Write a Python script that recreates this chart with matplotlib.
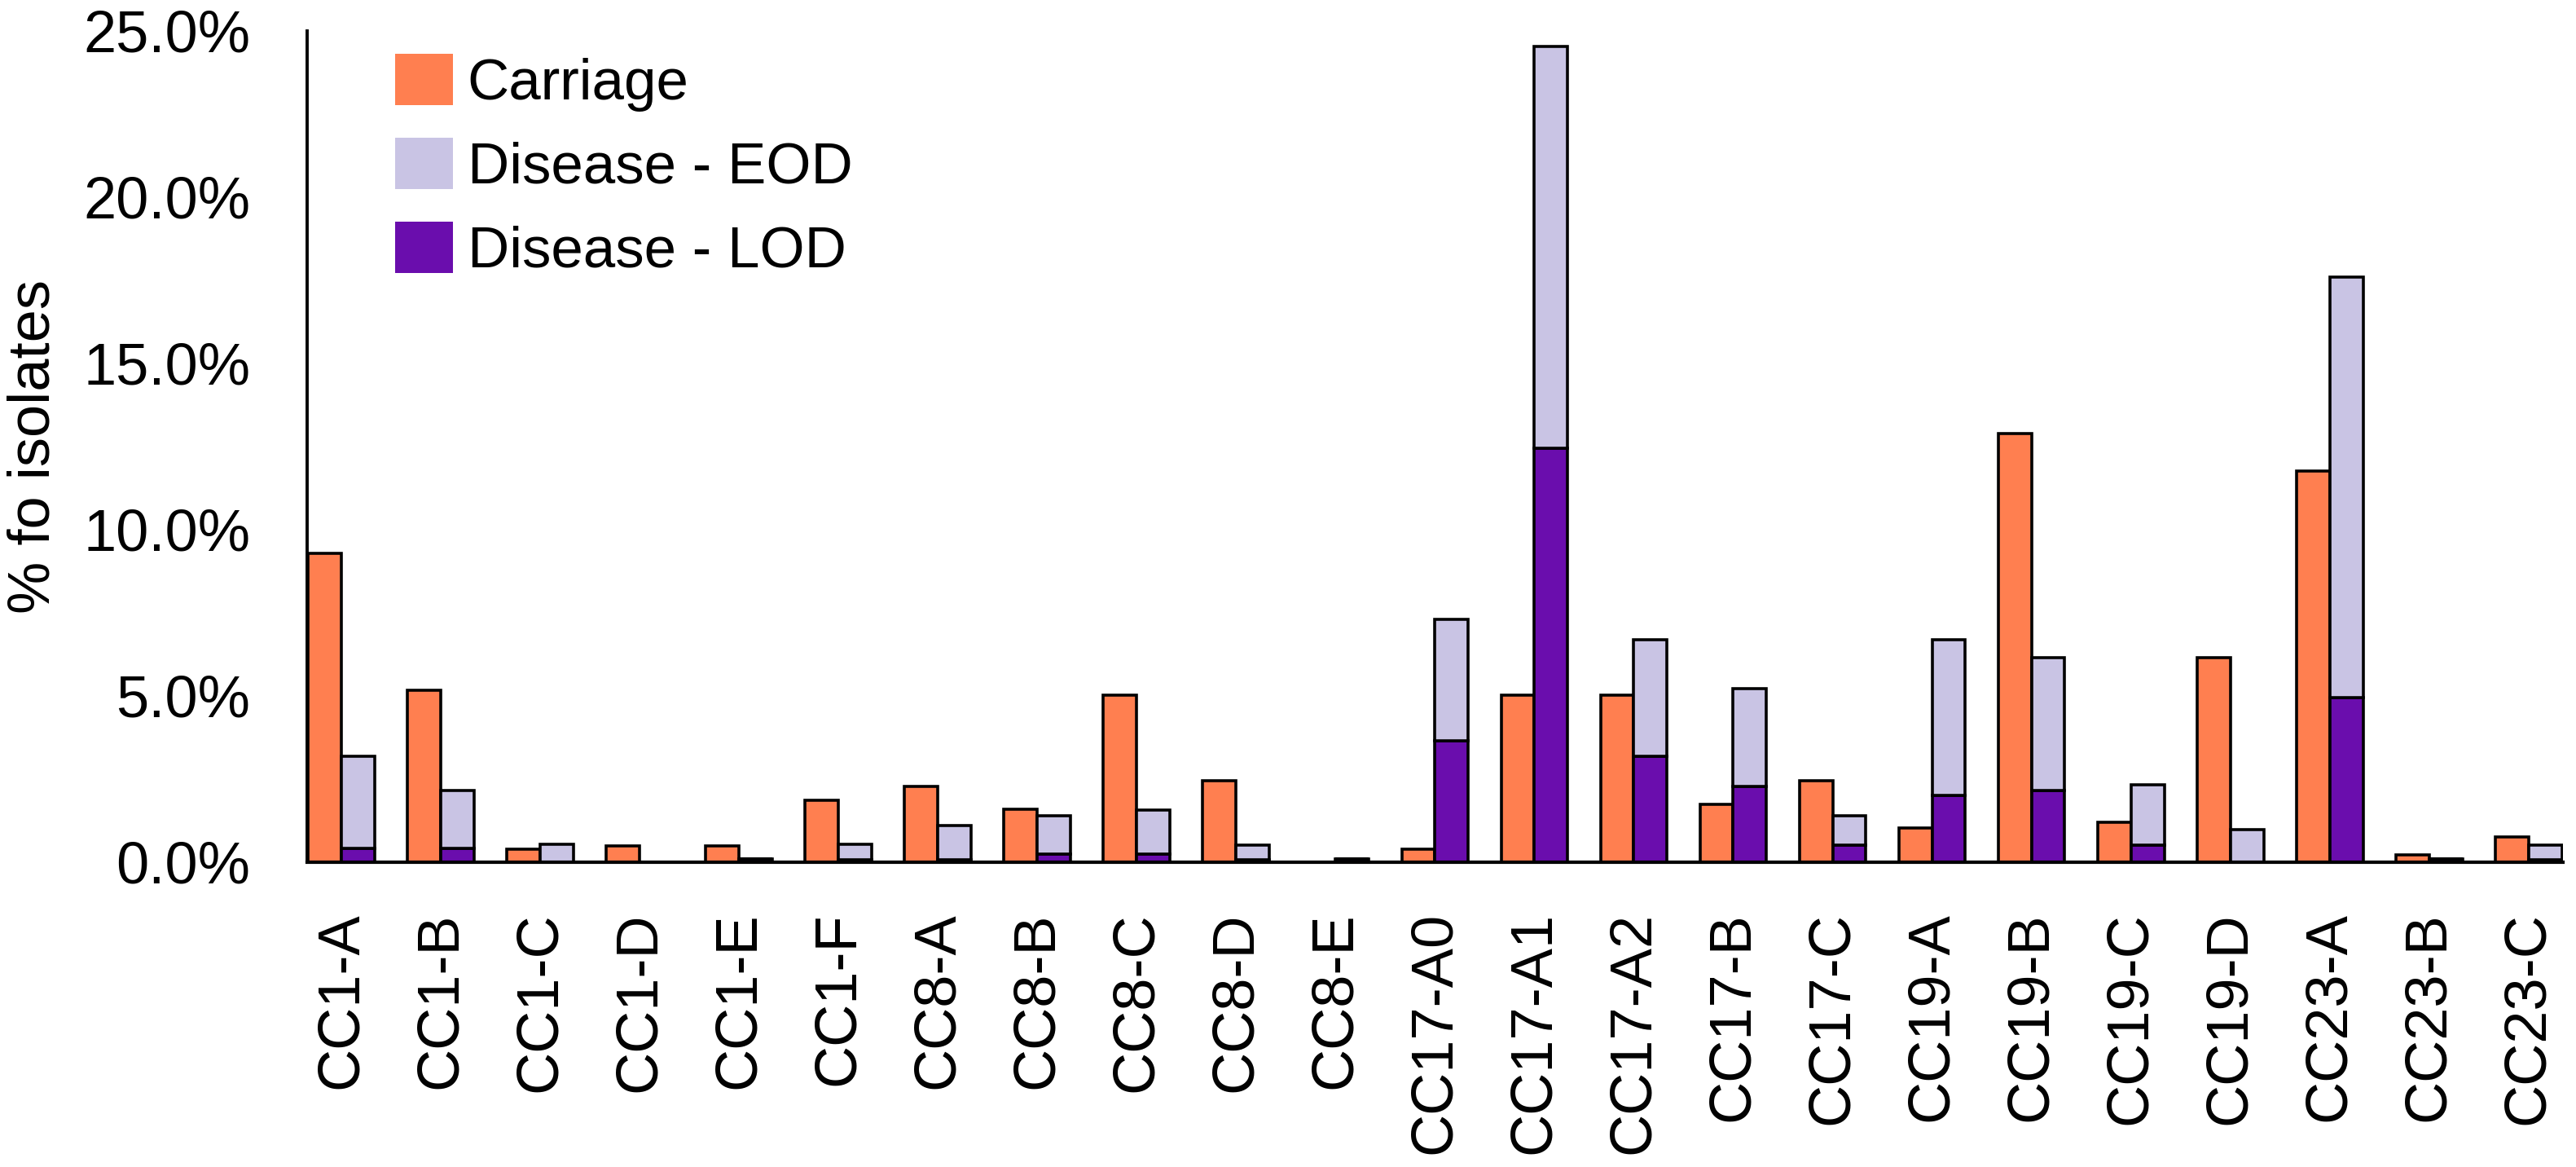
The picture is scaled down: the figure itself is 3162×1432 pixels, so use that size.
import numpy as np
import matplotlib
matplotlib.use("Agg")
import matplotlib.pyplot as plt
from matplotlib.patches import Patch
from matplotlib.ticker import PercentFormatter

plt.rcParams["font.family"] = ["Liberation Sans", "DejaVu Sans"]

# values, in percent of isolates
clusters = ["CC1-A", "CC1-B", "CC1-C", "CC1-D", "CC1-E", "CC1-F",
            "CC8-A", "CC8-B", "CC8-C", "CC8-D", "CC8-E",
            "CC17-A0", "CC17-A1", "CC17-A2", "CC17-B", "CC17-C",
            "CC19-A", "CC19-B", "CC19-C", "CC19-D",
            "CC23-A", "CC23-B", "CC23-C"]
carriage = [9.28, 5.18, 0.40, 0.49, 0.49, 1.87,
            2.27, 1.59, 5.03, 2.44, 0.0,
            0.38, 5.03, 5.03, 1.73, 2.44,
            1.04, 12.89, 1.20, 6.14,
            11.77, 0.21, 0.76]
disease_lod = [0.42, 0.42, 0.0, 0.0, 0.10, 0.07,
               0.07, 0.24, 0.24, 0.07, 0.10,
               3.64, 12.44, 3.19, 2.29, 0.52,
               2.01, 2.15, 0.52, 0.0,
               4.94, 0.10, 0.07]
disease_eod = [2.77, 1.73, 0.54, 0.0, 0.0, 0.47,
               1.04, 1.15, 1.32, 0.45, 0.0,
               3.67, 12.10, 3.50, 2.94, 0.87,
               4.68, 3.99, 1.80, 0.97,
               12.65, 0.0, 0.45]

C_CARRIAGE = "#FF7F50"
C_EOD = "#C9C4E4"
C_LOD = "#6A0DAD"

fig = plt.figure(figsize=(31.62, 14.32), dpi=100)
ax = fig.add_axes([0.1192, 0.2612, 0.8757, 0.7123])

x = np.arange(len(clusters))
w = 0.335
edge = dict(edgecolor="black", linewidth=2.6)
ax.bar(x - w / 2, carriage, w, color=C_CARRIAGE, **edge)
ax.bar(x + w / 2, disease_lod, w, color=C_LOD, **edge)
ax.bar(x + w / 2, disease_eod, w, bottom=disease_lod, color=C_EOD, **edge)

ax.set_xlim(-0.345, len(clusters) - 1 + 0.345)
ax.set_ylim(0, 25)
ax.set_yticks(np.arange(0, 25.1, 5))
ax.yaxis.set_major_formatter(PercentFormatter(100, decimals=1))
ax.set_xticks(x)
ax.set_xticklabels(clusters, rotation=90)
ax.tick_params(axis="y", length=0, pad=50, labelsize=52)
ax.tick_params(axis="x", length=0, pad=44, labelsize=52)

for side in ("top", "right"):
    ax.spines[side].set_visible(False)
ax.spines["left"].set_linewidth(2.8)
ax.spines["bottom"].set_linewidth(3.0)

fig.text(42 / 3162, 1 - 548 / 1432, "% fo isolates", rotation=90,
         ha="center", va="center", fontsize=52)

handles = [Patch(facecolor=C_CARRIAGE, edgecolor="none"),
           Patch(facecolor=C_EOD, edgecolor="none"),
           Patch(facecolor=C_LOD, edgecolor="none")]
fig.legend(handles, ["Carriage", "Disease - EOD", "Disease - LOD"],
           loc="upper left", bbox_to_anchor=(485 / 3162, 1 - 66 / 1432),
           frameon=False, fontsize=51, borderpad=0, borderaxespad=0,
           handlelength=1.0, handleheight=1.0, handletextpad=0.25,
           labelspacing=0.45)

fig.savefig("out.png", dpi=100)
